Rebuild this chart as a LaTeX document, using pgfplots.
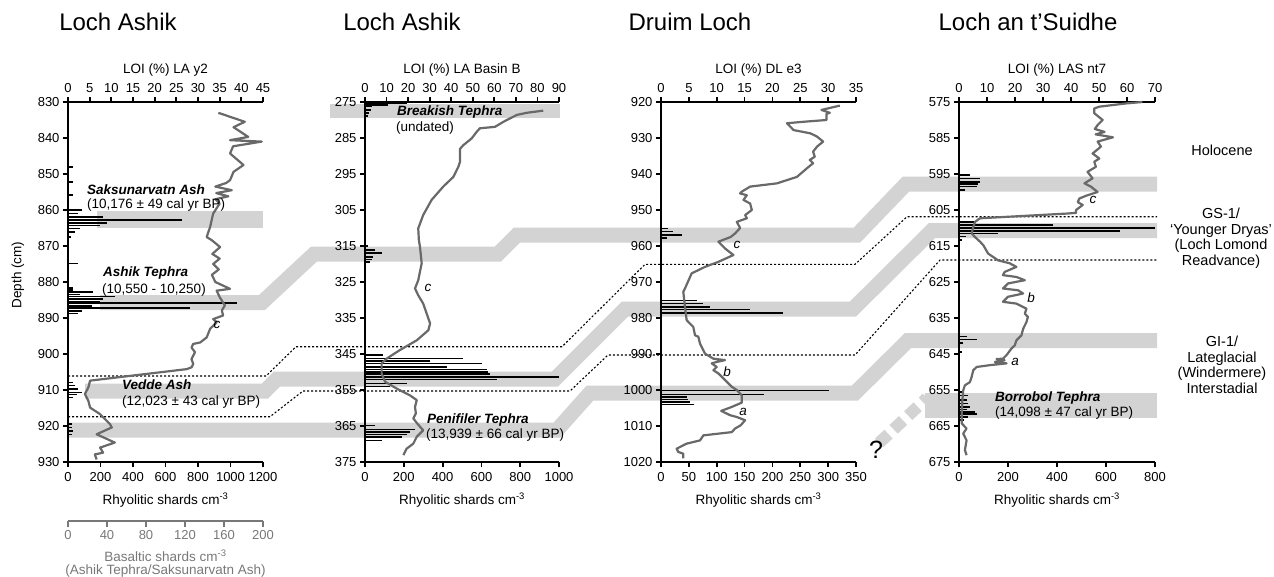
\documentclass[border=0pt]{standalone}
\usepackage{pgfplots}
\pgfplotsset{compat=1.18}
\usepackage{fontspec}
\setmainfont{Liberation Sans}

\definecolor{bandgray}{RGB}{211,211,211}
\definecolor{loigray}{RGB}{105,105,105}
\definecolor{basalt}{RGB}{120,120,120}

\newcommand{\tickfont}{\fontsize{13}{14}\selectfont}
\newcommand{\labfont}{\fontsize{13.5}{15}\selectfont}
\newcommand{\notefont}{\fontsize{13.5}{15}\selectfont}
\newcommand{\tephra}{\fontsize{13.5}{15}\selectfont\bfseries\itshape}
\newcommand{\titlefont}{\fontsize{24}{26}\selectfont}

\pgfplotsset{
  /pgf/number format/assume math mode=true,
  /pgf/number format/1000 sep={},
  % a frame in pixel-like units (1 unit = 1pt), origin top left
  frame/.style={at={(0pt,0pt)}, anchor=north west, scale only axis,
    width=1274pt, height=576pt, xmin=0, xmax=1274, ymin=0, ymax=576,
    y dir=reverse, hide axis, clip=false},
  band/.style={draw=bandgray, line width=15pt, line join=miter, line cap=butt, mark=none},
  yd/.style={black, line width=1.1pt, dash pattern=on 2pt off 2pt, mark=none},
  depthaxis/.style={scale only axis, height=360pt, anchor=north west,
    y filter/.code={\pgfmathparse{-##1}},
    axis line style={line width=2.4pt,-},
    x axis line style={-}, y axis line style={-},
    tick style={line width=1.8pt, black},
    major tick length=5pt, tick align=outside,
    tick label style={font=\tickfont},
    xlabel style={font=\labfont},
    clip=false},
  shards/.style={axis x line=bottom, axis y line=left, depthaxis,
    yticklabel={\pgfmathparse{abs(\tick)}\pgfmathprintnumber{\pgfmathresult}},
    xticklabel style={yshift=-2pt},
    xlabel style={yshift=-4pt},
    xlabel={Rhyolitic shards cm\textsuperscript{-3}}},
  loiaxis/.style={axis x line=top, axis y line=none, depthaxis,
    xticklabel style={yshift=1pt}},
  bars/.style={xcomb, black, line width=1.5pt, mark=none},
  curve/.style={loigray, line width=2.2pt, line join=round, mark=none},
}

\begin{document}
\begin{tikzpicture}
\useasboundingbox (0pt,0pt) rectangle (1274pt,-576pt);

% ---------- tephra bands and Younger Dryas boundaries ----------
\begin{axis}[frame]
  % Saksunarvatn Ash
  \addplot[band, line width=17pt] coordinates {(97,219) (263,219)};
  % Breakish Tephra
  \addplot[band, line width=14pt] coordinates {(330,111) (560,111)};
  % Ashik Tephra
  \addplot[band] coordinates {(100,302.5) (262,302.5) (314,254) (498,254) (517,235) (857,235) (906,184) (1157,184)};
  % Vedde Ash
  \addplot[band] coordinates {(85,391) (265,391) (277,379) (555,379) (625,309) (853,309) (932,230.5) (1157,230.5)};
  % Penifiler Tephra
  \addplot[band] coordinates {(68,430) (557,430) (590,393) (855,393) (908,340.5) (1157,340.5)};
  % Borrobol Tephra
  \addplot[band, line width=25pt] coordinates {(925,405) (1157,405)};
  \addplot[band, line width=12pt, dash pattern=on 13pt off 7pt] coordinates {(879,443) (927,398)};
  % GS-1 boundaries
  \addplot[yd] coordinates {(68,376) (266,376) (296,346.7) (562,346.7) (645,264.3) (855,264.3) (907,216.7) (1157,216.7)};
  \addplot[yd] coordinates {(68,416.7) (270,416.7) (303,391) (570,391) (608,355) (855,355) (940,260) (1157,260)};
\end{axis}

% ---------- Loch Ashik, LA y2 ----------
\begin{axis}[shards, at={(68pt,-102pt)}, width=195pt,
  xmin=0, xmax=1200, xtick={0,200,...,1200},
  ymin=-930, ymax=-830, ytick={-930,-920,...,-830}]
\addplot[bars] table[x=s, y=d] {
d s
848.0 29
852.2 29
855.9 29
860.0 84
861.0 64
861.9 217
862.8 700
863.6 238
864.3 197
865.2 74
866.1 43
867.5 20
874.9 64
881.6 33
882.2 30
882.8 156
883.5 74
884.0 289
884.7 217
885.4 197
885.9 1038
886.6 146
887.2 751
888.0 84
888.7 64
907.9 33
908.8 43
909.7 64
910.7 84
911.3 53
912.1 33
919.5 23
920.4 23
921.4 29
922.3 23
};
\end{axis}
\begin{axis}[loiaxis, at={(68pt,-102pt)}, width=195pt,
  xmin=0, xmax=45, xtick={0,5,...,45}, ymin=-930, ymax=-830,
  xlabel={LOI (\%) LA y2}]
\addplot[curve] table[x=v, y=d] {
d v
833.0 34.7
835.5 40.8
837.0 38.2
839.7 41.6
840.6 37.4
841.0 44.7
842.3 38.1
844.3 37.4
847.5 40.5
849.4 38.2
851.7 37.4
852.5 36.5
853.5 34.0
854.5 37.8
855.3 34.2
856.2 37.0
857.0 34.0
858.2 35.0
861.0 33.5
864.7 32.8
867.5 32.0
868.4 33.2
870.3 35.1
872.2 33.3
873.5 35.0
875.0 33.5
876.5 34.8
878.0 33.2
880.0 34.0
881.9 37.4
882.4 34.3
884.2 35.0
886.5 36.2
887.9 35.5
889.3 35.8
890.3 33.5
891.2 34.3
893.0 32.8
895.4 32.0
896.8 30.5
897.2 28.9
898.2 28.5
899.5 29.3
901.4 28.5
902.8 28.9
903.7 28.5
904.2 27.4
907.4 5.1
909.3 4.7
911.1 3.9
913.0 4.7
914.9 5.1
916.7 7.4
919.5 9.7
920.4 10.1
922.3 6.6
924.6 10.8
926.0 7.4
927.4 8.1
927.9 6.2
929.3 6.6
};
\end{axis}

% ---------- Loch Ashik, LA Basin B ----------
\begin{axis}[shards, at={(365pt,-102pt)}, width=194pt,
  xmin=0, xmax=1000, xtick={0,200,...,1000},
  ymin=-375, ymax=-275, ytick={-375,-365,...,-275}]
\addplot[bars] table[x=s, y=d] {
d s
275.3 215
275.8 120
276.3 34
277.2 31
278.0 21
278.9 15
315.0 17
316.1 52
317.0 86
318.0 43
318.7 34
319.4 26
345.3 94
346.3 507
347.0 335
347.6 601
348.6 421
349.3 627
350.0 636
350.6 644
351.4 1000
352.1 679
353.2 215
354.0 129
364.8 52
366.0 258
366.7 232
367.3 215
368.0 189
369.0 86
};
\end{axis}
\begin{axis}[loiaxis, at={(365pt,-102pt)}, width=194pt,
  xmin=0, xmax=90, xtick={0,10,...,90}, ymin=-375, ymax=-275,
  xlabel={LOI (\%) LA Basin B}]
\addplot[curve] table[x=v, y=d] {
d v
277.4 82.7
278.0 75.0
278.6 70.4
280.5 64.2
281.9 60.3
282.3 53.3
283.3 51.8
285.1 49.5
287.0 45.6
288.0 44.1
291.6 44.1
293.0 43.3
295.8 41.0
298.5 36.3
302.2 30.9
306.4 27.0
310.1 24.7
313.4 25.0
315.2 25.5
319.8 26.3
324.5 24.7
326.8 23.2
328.7 24.7
331.0 27.0
336.5 30.2
338.4 29.4
341.2 24.0
343.9 16.2
346.3 10.0
347.6 7.7
350.4 7.7
352.7 9.3
354.6 14.7
356.5 20.9
357.8 24.0
359.7 23.2
361.5 23.6
362.9 22.4
364.5 24.5
366.2 27.0
368.0 24.0
369.9 22.4
371.3 19.3
373.1 17.8
};
\end{axis}

% ---------- Druim Loch, DL e3 ----------
\begin{axis}[shards, at={(661pt,-102pt)}, width=195pt,
  xmin=0, xmax=350, xtick={0,50,...,350},
  ymin=-1020, ymax=-920, ytick={-1020,-1010,...,-920}]
\addplot[bars] table[x=s, y=d] {
d s
955.2 13
956.0 22
956.9 37
957.8 10
975.2 64
976.0 76
976.9 88
977.7 159
978.6 219
1000.1 302
1001.2 185
1001.9 47
1002.7 49
1003.3 52
1004.0 59
};
\end{axis}
\begin{axis}[loiaxis, at={(661pt,-102pt)}, width=195pt,
  xmin=0, xmax=35, xtick={0,5,...,35}, ymin=-1020, ymax=-920,
  xlabel={LOI (\%) DL e3}]
\addplot[curve] table[x=v, y=d] {
d v
921.0 32.1
922.2 28.8
923.0 30.3
923.3 29.7
925.0 29.7
925.5 25.5
925.9 22.6
927.8 23.8
928.7 26.8
929.6 28.0
931.0 29.1
932.4 28.0
933.8 27.3
935.2 27.6
936.1 26.7
937.0 27.3
938.4 26.2
940.8 24.4
942.6 20.8
943.5 16.0
944.9 14.5
945.4 14.2
945.9 15.4
947.2 14.8
948.2 16.0
950.0 16.3
951.4 15.1
952.3 15.4
953.3 13.6
955.0 14.2
956.5 13.3
957.5 12.5
958.8 10.3
960.7 11.5
962.5 13.0
964.4 10.3
965.8 7.9
967.6 5.5
971.8 4.3
972.7 4.0
976.9 4.3
980.6 4.6
982.5 5.8
984.8 6.1
985.2 6.7
987.1 7.0
989.9 7.9
991.3 9.4
991.7 11.5
992.2 10.0
992.6 9.1
993.6 10.0
994.5 9.4
995.4 10.3
997.7 11.8
999.1 12.7
1000.0 13.6
1001.5 14.5
1003.5 14.5
1004.7 12.7
1005.8 10.8
1007.0 12.4
1007.5 13.6
1008.4 15.1
1009.8 14.3
1010.7 13.3
1011.7 12.7
1012.6 7.6
1014.0 7.0
1014.9 4.6
1016.3 2.8
1017.2 3.1
1017.7 4.0
1019.0 4.0
};
\end{axis}

% ---------- Loch an t'Suidhe, LAS nt7 ----------
\begin{axis}[shards, at={(959pt,-102pt)}, width=196pt,
  xmin=0, xmax=800, xtick={0,200,...,800},
  ymin=-675, ymax=-575, ytick={-675,-665,...,-575}]
\addplot[bars] table[x=s, y=d] {
d s
595.3 45
596.2 86
597.2 86
597.8 79
598.5 72
599.5 24
608.3 60
609.2 382
610.0 800
610.8 657
611.5 160
612.3 30
613.4 11
640.1 34
641.0 72
642.0 18
644.4 11
655.5 18
656.5 38
657.8 31
658.8 38
659.7 45
660.4 31
661.1 65
661.7 72
662.5 38
663.3 20
};
\end{axis}
\begin{axis}[loiaxis, at={(959pt,-102pt)}, width=196pt,
  xmin=0, xmax=70, xtick={0,10,...,70}, ymin=-675, ymax=-575,
  xlabel={LOI (\%) LAS nt7}]
\addplot[curve] table[x=v, y=d] {
d v
575.0 65.5
575.4 59.6
575.8 55.4
576.3 50.1
576.8 48.3
578.1 48.3
580.0 51.3
581.4 49.5
582.5 48.5
583.3 52.0
584.0 48.8
584.8 55.0
586.0 49.5
587.4 50.7
589.3 47.7
590.7 50.1
591.6 48.3
593.0 48.9
594.4 45.9
596.2 47.7
597.6 44.8
598.5 47.1
600.0 49.5
601.0 45.5
601.8 43.0
602.8 42.4
603.6 44.2
605.0 41.8
605.8 41.8
606.0 38.3
607.3 7.5
608.3 5.7
609.7 5.1
611.5 4.5
612.5 5.7
613.8 7.5
614.8 8.7
617.1 10.4
619.0 14.0
619.8 18.1
620.8 20.5
622.2 16.3
623.1 15.7
623.6 20.5
624.5 23.5
625.4 17.5
626.8 15.7
627.3 21.1
628.2 22.9
629.1 17.5
630.5 15.7
631.0 20.5
632.4 24.1
633.8 23.5
634.7 24.6
636.1 24.1
638.0 22.9
639.8 22.3
641.2 20.5
642.6 19.9
643.5 18.7
645.3 17.0
646.3 15.7
646.4 13.4
646.7 16.3
647.2 12.8
647.6 17.0
648.1 11.0
648.6 6.3
649.5 5.1
651.4 4.5
652.8 3.9
653.7 2.1
655.1 1.5
658.0 1.2
661.0 1.0
664.3 1.0
665.7 2.7
667.1 1.5
669.0 2.7
671.7 2.1
673.1 2.7
};
\end{axis}

% ---------- basaltic shard scale under the first core ----------
\begin{axis}[scale only axis, at={(68pt,-521pt)}, anchor=south west,
  width=195pt, height=1pt, xmin=0, xmax=200, ymin=0, ymax=1,
  xtick={0,40,...,200},
  axis x line=bottom, axis y line=none,
  axis line style={basalt, line width=2pt, -}, x axis line style={-},
  tick style={basalt, line width=1.8pt}, major tick length=6pt, tick align=outside,
  tick label style={font=\tickfont, text=basalt},
  xlabel={Basaltic shards cm\textsuperscript{-3}\\(Ashik Tephra/Saksunarvatn Ash)},
  xlabel style={align=center, font=\fontsize{13.5}{13}\selectfont, text=basalt, yshift=-3pt}]
\end{axis}

% ---------- titles and annotations ----------
\begin{axis}[frame]
  \node[font=\titlefont] at (118,22) {Loch Ashik};
  \node[font=\titlefont] at (402,22) {Loch Ashik};
  \node[font=\titlefont] at (690,22) {Druim Loch};
  \node[font=\titlefont] at (1028,22) {Loch an t'Suidhe};

  \node[font=\labfont, rotate=90] at (18,275) {Depth (cm)};

  \node[font=\tephra, anchor=west, inner sep=0pt] at (87,190) {Saksunarvatn Ash};
  \node[font=\notefont, anchor=west, inner sep=0pt] at (87,205) {(10,176 ± 49 cal yr BP)};
  \node[font=\tephra, anchor=west, inner sep=0pt] at (103,273) {Ashik Tephra};
  \node[font=\notefont, anchor=west, inner sep=0pt] at (102,290) {(10,550 - 10,250)};
  \node[font=\tephra, anchor=west, inner sep=0pt] at (122,385) {Vedde Ash};
  \node[font=\notefont, anchor=west, inner sep=0pt] at (122,402) {(12,023 ± 43 cal yr BP)};

  \node[font=\tephra, anchor=west, inner sep=0pt] at (397,112) {Breakish Tephra};
  \node[font=\notefont, anchor=west, inner sep=0pt] at (396,128) {(undated)};
  \node[font=\tephra, anchor=west, inner sep=0pt] at (427,420) {Penifiler Tephra};
  \node[font=\notefont, anchor=west, inner sep=0pt] at (426,435) {(13,939 ± 66 cal yr BP)};

  \node[font=\tephra, anchor=west, inner sep=0pt] at (995,398) {Borrobol Tephra};
  \node[font=\notefont, anchor=west, inner sep=0pt] at (995,413) {(14,098 ± 47 cal yr BP)};

  \node[font=\notefont\itshape] at (217,325) {c};
  \node[font=\notefont\itshape] at (428,288) {c};
  \node[font=\notefont\itshape] at (737,245) {c};
  \node[font=\notefont\itshape] at (727,372) {b};
  \node[font=\notefont\itshape] at (743,412) {a};
  \node[font=\notefont\itshape] at (1093,200) {c};
  \node[font=\notefont\itshape] at (1031,298) {b};
  \node[font=\notefont\itshape] at (1015,362) {a};

  \node[font=\fontsize{25}{27}\selectfont] at (876,450) {?};

  \node[font=\fontsize{14.5}{15.5}\selectfont, align=center] at (1222,150) {Holocene};
  \node[font=\fontsize{14.5}{15.5}\selectfont, align=center] at (1221,238) {GS-1/\\‘Younger Dryas’\\(Loch Lomond\\Readvance)};
  \node[font=\fontsize{14.5}{15.5}\selectfont, align=center] at (1222,365) {GI-1/\\Lateglacial\\(Windermere)\\Interstadial};
\end{axis}
\end{tikzpicture}
\end{document}
